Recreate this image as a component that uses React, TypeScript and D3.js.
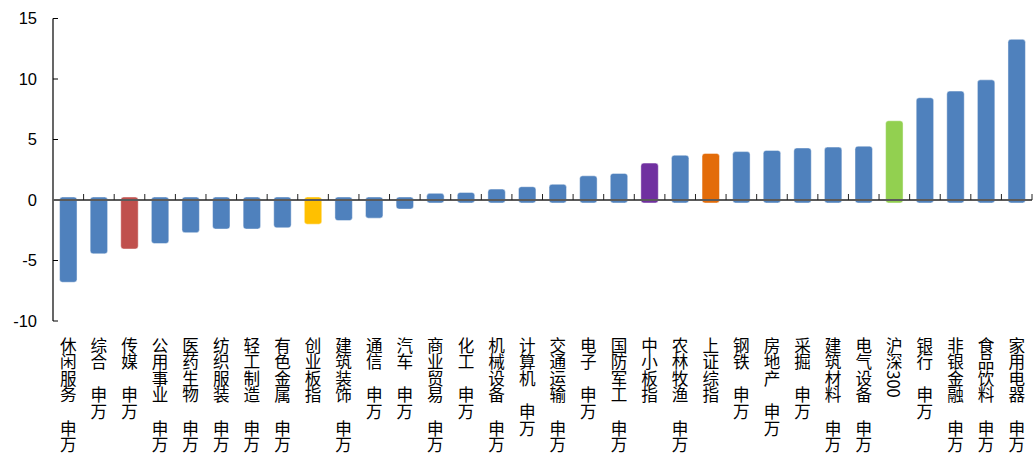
import React from "react";
import * as d3 from "d3";

const categories = [
  "休闲服务　申万", "综合　申万", "传媒　申万", "公用事业　申万", "医药生物　申万",
  "纺织服装　申万", "轻工制造　申万", "有色金属　申万", "创业板指", "建筑装饰　申万",
  "通信　申万", "汽车　申万", "商业贸易　申万", "化工　申万", "机械设备　申万",
  "计算机　申万", "交通运输　申万", "电子　申万", "国防军工　申万", "中小板指",
  "农林牧渔　申万", "上证综指", "钢铁　申万", "房地产　申万", "采掘　申万",
  "建筑材料　申万", "电气设备　申万", "沪深300", "银行　申万", "非银金融　申万",
  "食品饮料　申万", "家用电器　申万",
];

const values = [
  -6.8, -4.45, -4.05, -3.6, -2.7,
  -2.4, -2.4, -2.3, -2.0, -1.7,
  -1.5, -0.75, 0.55, 0.63, 0.9,
  1.1, 1.3, 2.0, 2.2, 3.05,
  3.7, 3.85, 4.0, 4.1, 4.3,
  4.37, 4.45, 6.55, 8.45, 9.0,
  9.93, 13.28,
];

const yTicks = [-10, -5, 0, 5, 10, 15];

const highlightColors: Record<string, string> = {
  "传媒　申万": "#C0504D",
  "创业板指": "#FFC000",
  "中小板指": "#7030A0",
  "上证综指": "#E36C09",
  "沪深300": "#92D050",
};
const defaultColor = "#4F81BD";

export default function App() {
  const W = 1036;
  const H = 458;
  const left = 53;
  const right = 1032;
  const top = 18.5;
  const bottom = 321;

  const x = d3.scaleBand<string>().domain(categories).range([left, right]).paddingInner(0.43).paddingOuter(0.215);
  const xb = d3.scaleBand<string>().domain(categories).range([left, right]);
  const y = d3.scaleLinear().domain([-10, 15]).range([bottom, top]);
  const y0 = y(0);

  return (
    <svg width={W} height={H} style={{ position: "absolute", left: 0, top: 0, background: "#fff" }}>
      {/* bars */}
      {categories.map((c, i) => {
        const v = values[i];
        const color = highlightColors[c] || defaultColor;
        const yTop = v >= 0 ? y(v) : y0 - 3;
        const yBot = v >= 0 ? y0 + 3 : y(v);
        return (
          <rect
            key={c}
            x={x(c)!}
            y={yTop}
            width={x.bandwidth()}
            height={yBot - yTop}
            rx={3}
            ry={3}
            fill={color}
            stroke="#ffffff"
            strokeOpacity={0.45}
            strokeWidth={1}
          />
        );
      })}
      {/* y axis */}
      <line x1={left} x2={left} y1={top} y2={bottom} stroke="#000" strokeWidth={1.2} />
      {yTicks.map((t) => (
        <g key={t}>
          <line x1={left} x2={left + 5} y1={y(t)} y2={y(t)} stroke="#000" strokeWidth={1} />
          <text
            x={37}
            y={y(t)}
            dy="0.36em"
            textAnchor="end"
            fontFamily="'Liberation Sans', Arial, sans-serif"
            fontSize={16.5}
            fill="#000"
          >
            {t}
          </text>
        </g>
      ))}
      {/* zero line */}
      <line x1={left} x2={right} y1={y0} y2={y0} stroke="#5a5a5a" strokeWidth={1.8} />
      {categories.map((c, i) => {
        const bx = (xb(c) as number) + xb.bandwidth();
        return <line key={"t" + i} x1={bx} x2={bx} y1={y0} y2={y0 - 6} stroke="#222" strokeWidth={1} />;
      })}
      {/* category labels */}
      {categories.map((c) => {
        const cx = (xb(c) as number) + xb.bandwidth() / 2;
        return (
          <text
            key={"l" + c}
            x={cx}
            y={337}
            style={{ writingMode: "vertical-rl" as any, textOrientation: "mixed" as any }}
            fontFamily="'Noto Sans CJK SC', sans-serif"
            fontSize={16.6}
            fill="#000"
          >
            {c}
          </text>
        );
      })}
    </svg>
  );
}
